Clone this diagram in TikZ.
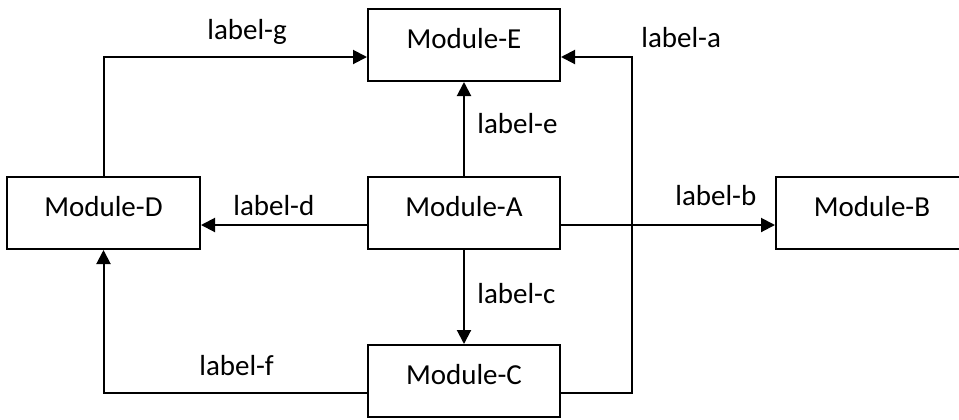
\documentclass[tikz,border=0pt]{standalone}
\usepackage{fontspec}
\setmainfont{Carlito}
\usetikzlibrary{arrows.meta}
\begin{document}
\begin{tikzpicture}[x=0.5pt,y=-0.5pt,
  module/.style={draw=black,line width=1pt,fill=white,minimum width=96pt,
    minimum height=36pt,inner sep=0pt,text height=9.3pt,text depth=6.3pt,
    font=\fontsize{14.5}{17}\selectfont},
  lbl/.style={anchor=base west,inner sep=0pt,font=\fontsize{14.5}{17}\selectfont},
  link/.style={line width=1pt,-{Triangle[length=7pt,width=7pt]}},
  plain/.style={line width=1pt}]
\useasboundingbox (0,0) rectangle (959,419);

% modules
\node[module] (E) at (464,45)    {Module-E};
\node[module] (A) at (464,213)   {Module-A};
\node[module,minimum width=96.5pt] (D) at (103.5,213) {Module-D};
\node[module] (B) at (872,213)   {Module-B};
\node[module] (C) at (464,381)   {Module-C};

% routing points
\coordinate (gy) at (0,57);
\coordinate (ay) at (0,225);
\coordinate (cy) at (0,393);
\coordinate (ra) at (632,57);
\coordinate (rc) at (632,393);

% connectors
\draw[link] (D.north) |- (E.west |- gy);
\draw[link] (A.north) -- (E.south);
\draw[link] (A.south) -- (C.north);
\draw[link] (A.west |- ay) -- (D.east |- ay);
\draw[link] (A.east |- ay) -- (B.west |- ay);
\draw[link] (C.east |- cy) -- (rc) -- (ra) -- (E.east |- gy);
\draw[link] (C.west |- cy) -| (D.south);

% labels
\node[lbl] (lg) at (207,39)  {label-g};
\node[lbl] (la) at (641,47)  {label-a};
\node[lbl] (le) at (477,133) {label-e};
\node[lbl] (ld) at (233,215) {label-d};
\node[lbl] (lb) at (675,205) {label-b};
\node[lbl] (lc) at (477,303) {label-c};
\node[lbl] (lf) at (199,375) {label-f};
\end{tikzpicture}
\end{document}
